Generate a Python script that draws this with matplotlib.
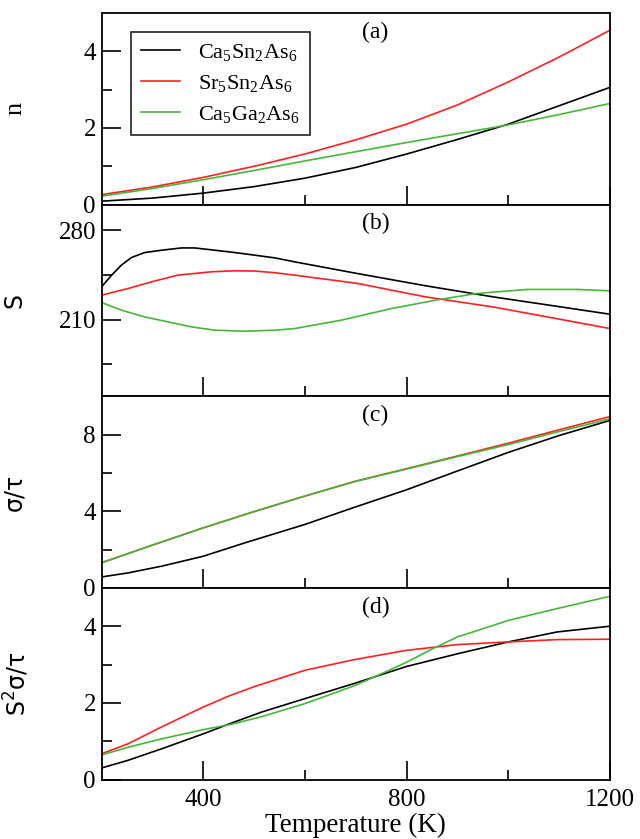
import numpy as np
import matplotlib
matplotlib.use("Agg")
import matplotlib.pyplot as plt
from matplotlib.ticker import FixedLocator

plt.rcParams['font.family'] = ['Liberation Serif', 'DejaVu Sans']
plt.rcParams['mathtext.default'] = 'regular'

labels = ['Ca$_5$Sn$_2$As$_6$', 'Sr$_5$Sn$_2$As$_6$', 'Ca$_5$Ga$_2$As$_6$']
colors = ['black', '#ff2020', '#44b83a']

# (a) carrier concentration n
T_n = [200, 300, 400, 500, 600, 700, 800, 900, 1000, 1100, 1200]
n_ca_sn = [0.09, 0.17, 0.30, 0.47, 0.69, 0.97, 1.32, 1.70, 2.10, 2.58, 3.06]
n_sr_sn = [0.26, 0.46, 0.71, 1.00, 1.32, 1.69, 2.10, 2.60, 3.20, 3.85, 4.55]
n_ca_ga = [0.22, 0.42, 0.65, 0.89, 1.14, 1.38, 1.62, 1.85, 2.08, 2.35, 2.64]

# (b) Seebeck coefficient S
T_s_ca_sn = [200, 220, 239, 259, 285, 318, 357, 383, 423, 462, 502, 541, 580, 704, 837, 970, 1104, 1200]
s_ca_sn = [235.6, 244.8, 252.6, 258.6, 262.5, 264.3, 266.1, 266.1, 264.3, 262.5, 260.4, 258.3, 255.2,
           246.0, 236.5, 227.8, 219.9, 214.2]
T_s_sr_sn = [200, 252, 298, 350, 416, 462, 502, 541, 580, 704, 837, 970, 1104, 1200]
s_sr_sn = [229.1, 234.3, 239.5, 244.8, 247.4, 248.2, 248.0, 246.7, 244.8, 238.3, 227.8, 219.9, 210.1, 203.0]
T_s_ca_ga = [200, 239, 285, 331, 377, 423, 482, 541, 580, 671, 771, 857, 937, 1037, 1137, 1200]
s_ca_ga = [223.4, 217.4, 212.1, 208.2, 204.3, 201.7, 200.9, 201.7, 203.0, 209.5, 218.7, 225.2, 230.4,
           233.6, 233.6, 232.5]

# (c) sigma/tau
T_c_ca_sn = [200, 252, 318, 400, 482, 600, 698, 800, 900, 1000, 1100, 1200]
c_ca_sn = [0.57, 0.78, 1.13, 1.65, 2.35, 3.31, 4.21, 5.12, 6.10, 7.07, 7.95, 8.74]
T_c = [200, 300, 400, 500, 600, 700, 800, 900, 1000, 1100, 1200]
c_sr_sn = [1.31, 2.23, 3.13, 3.98, 4.79, 5.57, 6.22, 6.88, 7.55, 8.25, 8.94]
c_ca_ga = [1.31, 2.23, 3.13, 3.98, 4.79, 5.56, 6.20, 6.85, 7.48, 8.16, 8.82]

# (d) power factor S^2 sigma/tau
T_p_ca_sn = [200, 252, 318, 400, 449, 515, 600, 698, 800, 900, 1000, 1096, 1200]
p_ca_sn = [0.30, 0.50, 0.80, 1.19, 1.44, 1.76, 2.11, 2.51, 2.95, 3.28, 3.59, 3.85, 4.00]
T_p_sr_sn = [200, 252, 318, 400, 449, 502, 600, 698, 800, 900, 1000, 1096, 1200]
p_sr_sn = [0.67, 0.93, 1.37, 1.89, 2.17, 2.43, 2.85, 3.13, 3.37, 3.52, 3.59, 3.65, 3.66]
T_p_ca_ga = [200, 252, 318, 400, 455, 515, 600, 698, 754, 800, 851, 900, 949, 1000, 1096, 1200]
p_ca_ga = [0.64, 0.84, 1.06, 1.30, 1.44, 1.64, 1.98, 2.45, 2.78, 3.06, 3.41, 3.72, 3.93, 4.15, 4.46, 4.78]

W, H = 640, 839
fig = plt.figure(figsize=(W / 100, H / 100), dpi=100)
left_px, right_px = 101.5, 610
top_px, bot_px = 13, 779.5
h = (bot_px - top_px) / 4
axes = []
for i in range(4):
    y0 = 1 - (top_px + (i + 1) * h) / H
    axes.append(fig.add_axes([left_px / W, y0, (right_px - left_px) / W, h / H]))
ax_a, ax_b, ax_c, ax_d = axes

lw = 1.2
for y, c, lab in zip([n_ca_sn, n_sr_sn, n_ca_ga], colors, labels):
    ax_a.plot(T_n, y, color=c, lw=lw, label=lab)
for x, y, c in zip([T_s_ca_sn, T_s_sr_sn, T_s_ca_ga], [s_ca_sn, s_sr_sn, s_ca_ga], colors):
    ax_b.plot(x, y, color=c, lw=lw)
for x, y, c in zip([T_c_ca_sn, T_c, T_c], [c_ca_sn, c_sr_sn, c_ca_ga], colors):
    ax_c.plot(x, y, color=c, lw=lw)
for x, y, c in zip([T_p_ca_sn, T_p_sr_sn, T_p_ca_ga], [p_ca_sn, p_sr_sn, p_ca_ga], colors):
    ax_d.plot(x, y, color=c, lw=lw)

ylims = [(0, 5), (150, 300), (0, 10), (0, 5)]
ymajor = [[0, 2, 4], [210, 280], [0, 4, 8], [0, 2, 4]]
yminor = [[1, 3], [175, 245], [2, 6], [1, 3]]
ylabs = ['n', 'S', 'σ/τ', 'S$^2$σ/τ']
tags = ['(a)', '(b)', '(c)', '(d)']

for i, ax in enumerate(axes):
    ax.set_xlim(200, 1200)
    ax.set_ylim(*ylims[i])
    ax.xaxis.set_major_locator(FixedLocator([400, 800, 1200]))
    ax.xaxis.set_minor_locator(FixedLocator([600, 1000]))
    ax.yaxis.set_major_locator(FixedLocator(ymajor[i]))
    ax.yaxis.set_minor_locator(FixedLocator(yminor[i]))
    ax.tick_params(which='both', direction='in', top=False, right=False, labelsize=18, width=1.2)
    ax.tick_params(which='major', length=14)
    ax.tick_params(which='minor', length=7)
    ax.tick_params(axis='x', pad=7)
    ax.tick_params(axis='y', pad=4)
    for sp in ax.spines.values():
        sp.set_linewidth(1.3)
    if i < 3:
        ax.tick_params(axis='x', labelbottom=False)
    if i == 0:
        ax.set_ylabel(ylabs[i], fontsize=19, family=['Liberation Serif'])
    else:
        ax.set_ylabel(ylabs[i], fontsize=17, family=['DejaVu Sans'])
    ax.yaxis.set_label_coords(-0.1475 if i < 3 else -0.138, 0.5)
    ax.text(0.539, 0.9, tags[i], transform=ax.transAxes, fontsize=17, ha='center', va='center')

ax_d.set_xlabel('Temperature (K)', fontsize=19.5, labelpad=1)

leg = ax_a.legend(loc='upper left', bbox_to_anchor=(0.058, 0.90), borderaxespad=0,
                  fontsize=16, frameon=True, fancybox=False, handlelength=1.74,
                  handletextpad=0.84, borderpad=0.45, labelspacing=0.45)
leg.get_frame().set_edgecolor('black')
leg.get_frame().set_linewidth(1.3)

fig.savefig('out.png', dpi=100)
